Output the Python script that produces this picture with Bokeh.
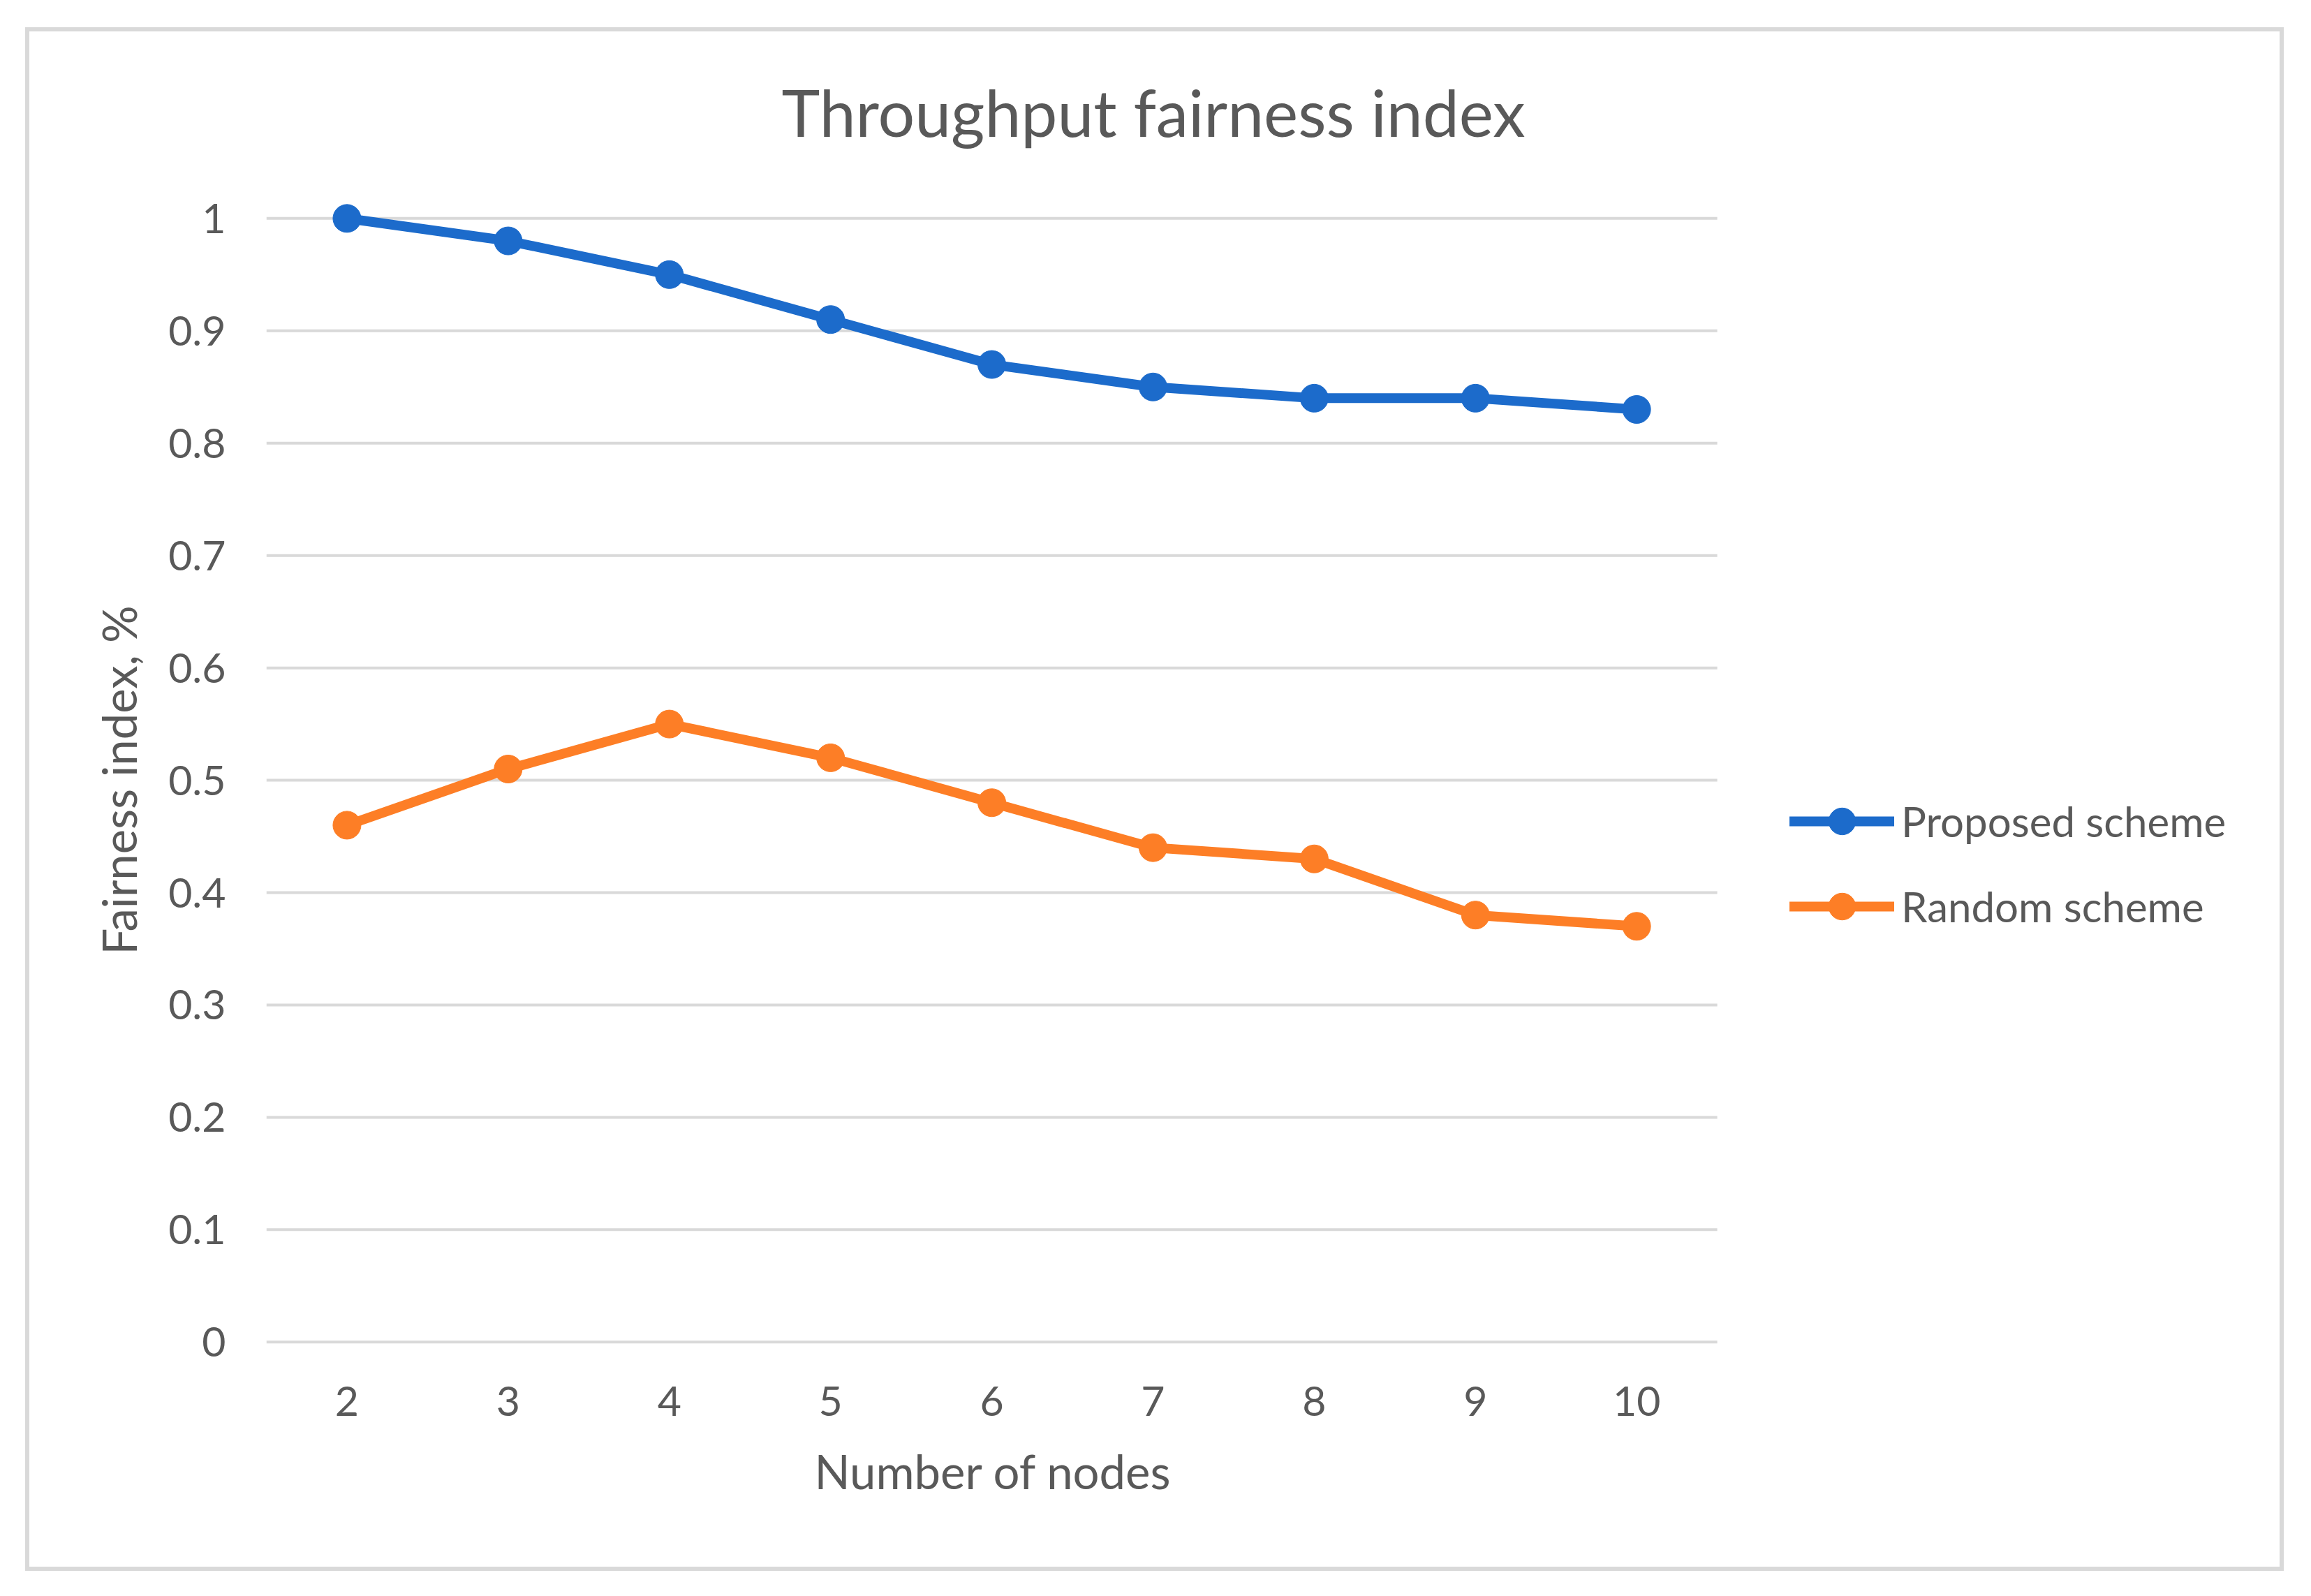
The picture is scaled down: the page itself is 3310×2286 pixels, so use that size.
from bokeh.plotting import figure
from bokeh.models import Range1d, FixedTicker, Legend, LegendItem, Title
from bokeh.embed import file_html
from bokeh.resources import INLINE

# ---- data ----
nodes = [2, 3, 4, 5, 6, 7, 8, 9, 10]
proposed = [1.00, 0.98, 0.95, 0.91, 0.87, 0.85, 0.84, 0.84, 0.83]
random_scheme = [0.46, 0.51, 0.55, 0.52, 0.48, 0.44, 0.43, 0.38, 0.37]
series_names = ["Proposed scheme", "Random scheme"]
y_ticks = [0, 0.1, 0.2, 0.3, 0.4, 0.5, 0.6, 0.7, 0.8, 0.9, 1.0]
y_tick_labels = ["0", "0.1", "0.2", "0.3", "0.4", "0.5", "0.6", "0.7", "0.8", "0.9", "1"]
x_tick_labels = ["2", "3", "4", "5", "6", "7", "8", "9", "10"]
title_text = "Throughput fairness index"
x_title = "Number of nodes"
y_title = "Fairness index, %"

# ---- style / layout (pixels) ----
FONT = "Lato"
TXT = "#595959"
GRID = "#d9d9d9"
colors = ["#1c6bcb", "#fd7e26"]

W, H = 3223, 2199            # canvas inside the grey chart border
FRAME_L = 339                # left edge of plot area
PX_X = 230.9                 # pixels per x unit
Y0_PX, PX_Y = 1877.0, 1611.3 # pixel row of y=0, pixels per y unit
PAD = 0.025                  # y padding so the top markers are not clipped
FRAME_T = round(Y0_PX - (1 + PAD) * PX_Y)
FRAME_B = H - round(Y0_PX + PAD * PX_Y)
frame_h = H - FRAME_T - FRAME_B

x_lo = nodes[0] - 0.5
x_hi_axis = nodes[-1] + 0.5
x_range = Range1d(x_lo, x_lo + (W - FRAME_L) / PX_X)
y_range = Range1d(-PAD, -PAD + frame_h / PX_Y)

p = figure(width=W, height=H, output_backend="svg", toolbar_location=None,
           x_range=x_range, y_range=y_range,
           min_border_left=FRAME_L, min_border_right=0,
           min_border_top=FRAME_T, min_border_bottom=FRAME_B,
           margin=(45, 0, 0, 42),
           styles={"outline": "6px solid #d9d9d9"})
p.outline_line_color = None
p.background_fill_color = "white"
p.border_fill_color = "white"
p.xgrid.visible = False
p.ygrid.visible = False

# horizontal gridlines across the plot area only
p.segment(x0=[x_lo] * len(y_ticks), x1=[x_hi_axis] * len(y_ticks),
          y0=y_ticks, y1=y_ticks, line_color=GRID, line_width=4)

p.yaxis.ticker = FixedTicker(ticks=y_ticks)
p.xaxis.ticker = FixedTicker(ticks=nodes)
p.xaxis.major_label_overrides = {n: s for n, s in zip(nodes, x_tick_labels)}
p.yaxis.major_label_overrides = {t: s for t, s in zip(y_ticks, y_tick_labels)}

for ax in (p.xaxis[0], p.yaxis[0]):
    ax.axis_line_color = None
    ax.major_tick_line_color = None
    ax.minor_tick_line_color = None
    ax.major_tick_in = 0
    ax.major_tick_out = 0
    ax.minor_tick_in = 0
    ax.minor_tick_out = 0
    ax.major_label_text_font = FONT
    ax.major_label_text_font_size = "59px"
    ax.major_label_text_color = TXT
    ax.axis_label_text_font = FONT
    ax.axis_label_text_font_size = "67px"
    ax.axis_label_text_color = TXT
    ax.axis_label_text_font_style = "normal"

p.yaxis.axis_label = y_title
p.yaxis.major_label_standoff = 58
p.xaxis.major_label_standoff = 23
p.yaxis.axis_label_standoff = 28

# x-axis title, centred under the category span (not the whole frame)
p.add_layout(Title(text=x_title, align="left", offset=785, vertical_align="top",
                   standoff=72, text_font=FONT, text_font_size="67px",
                   text_color=TXT, text_font_style="normal"), "below")

items = []
for name, ys, c in zip(series_names, [proposed, random_scheme], colors):
    lr = p.line(nodes, ys, line_color=c, line_width=14, line_cap="round", line_join="round")
    sr = p.scatter(nodes, ys, size=40, marker="circle", fill_color=c, line_color=c)
    items.append(LegendItem(label=name, renderers=[lr, sr]))

legend = Legend(items=items, location=(2182, 616), orientation="vertical",
                glyph_width=150, glyph_height=96, label_height=96,
                spacing=26, padding=10, margin=0, label_standoff=10,
                label_text_font=FONT, label_text_font_size="60px",
                label_text_color=TXT, background_fill_alpha=0,
                border_line_color=None)
p.add_layout(legend, "center")

p.title = Title(text=title_text, align="left", offset=738, standoff=113,
                text_font=FONT, text_font_size="93px", text_color=TXT,
                text_font_style="normal")

open("out.html", "w").write(file_html(p, INLINE))
